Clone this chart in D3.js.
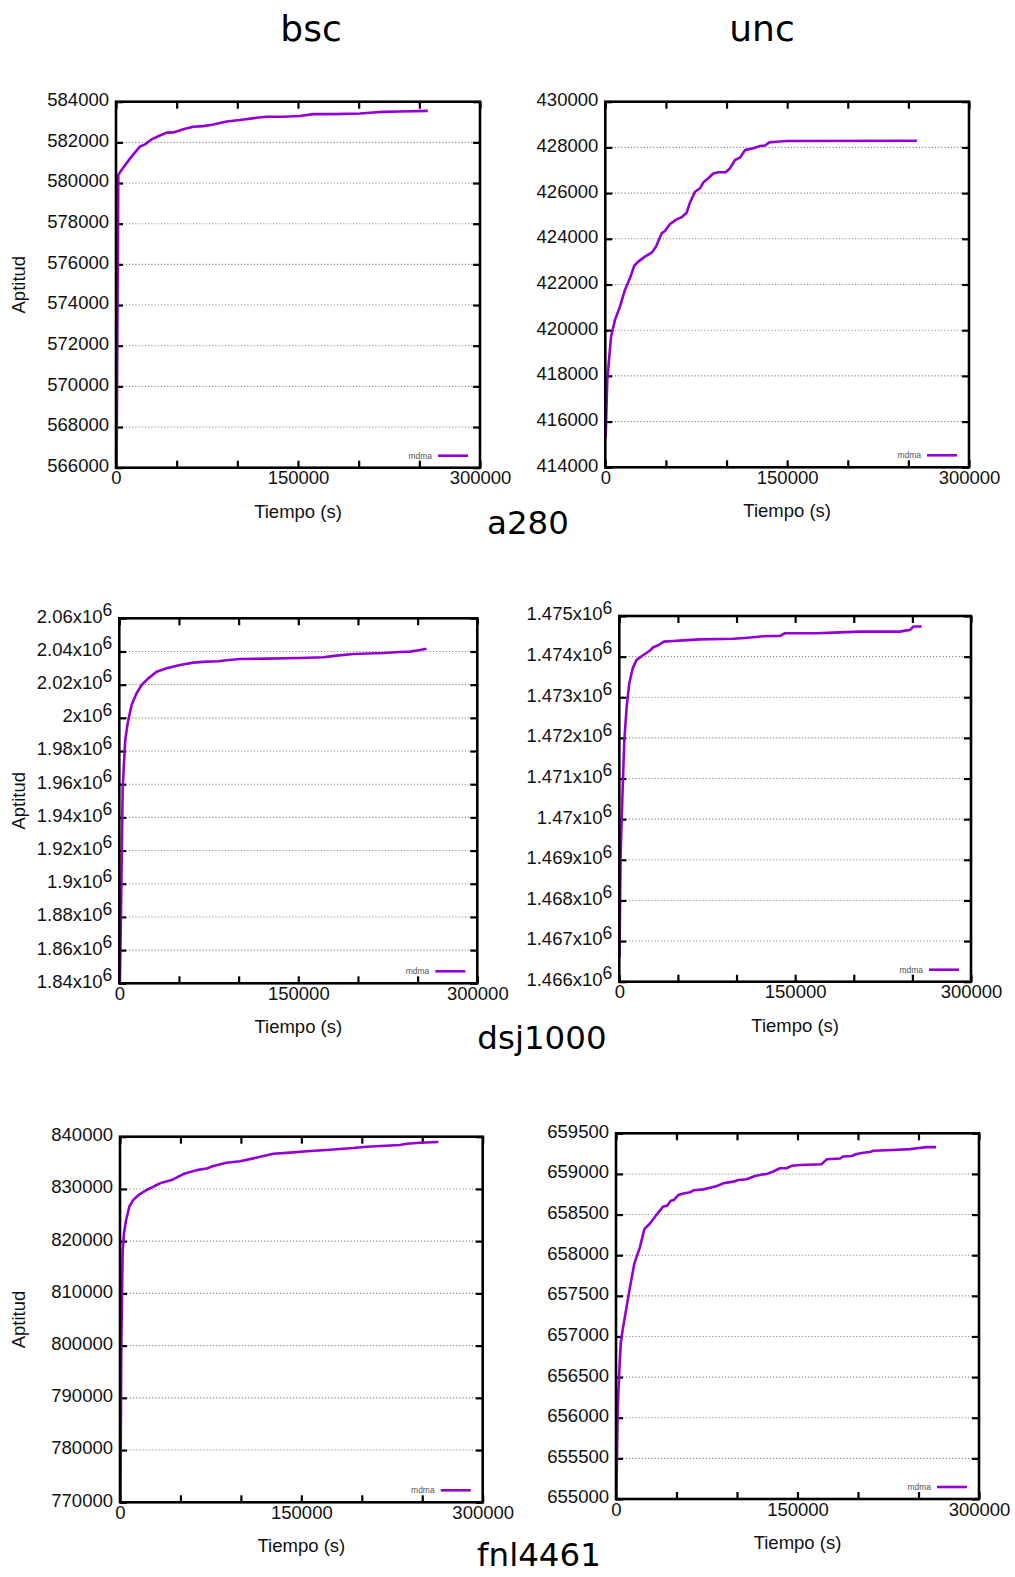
<!DOCTYPE html>
<html>
<head>
<meta charset="utf-8">
<script src="https://cdn.jsdelivr.net/npm/d3@7"></script>
<style>
  body { margin: 0; background: #fff; }
  svg { display: block; }
</style>
</head>
<body>
<svg id="chart" width="1015" height="1577"></svg>
<script>
// column / row titles
var columnNames = ["bsc", "unc"];
var rowNames = ["a280", "dsj1000", "fnl4461"];

// x axis: ticks every 50000, labels only on these
var xTicks = [0, 50000, 100000, 150000, 200000, 250000, 300000];
var xLabelled = [0, 150000, 300000];

// y ticks for each panel
var a280BscTicks = [566000, 568000, 570000, 572000, 574000, 576000, 578000, 580000, 582000, 584000];
var a280UncTicks = [414000, 416000, 418000, 420000, 422000, 424000, 426000, 428000, 430000];
var dsjBscTicks = [1840000, 1860000, 1880000, 1900000, 1920000, 1940000, 1960000, 1980000, 2000000, 2020000, 2040000, 2060000];
var dsjUncTicks = [1466000, 1467000, 1468000, 1469000, 1470000, 1471000, 1472000, 1473000, 1474000, 1475000];
var fnlBscTicks = [770000, 780000, 790000, 800000, 810000, 820000, 830000, 840000];
var fnlUncTicks = [655000, 655500, 656000, 656500, 657000, 657500, 658000, 658500, 659000, 659500];

// [tiempo (s), aptitud]
var a280Bsc = [[500, 566000], [1900, 580400], [4700, 580650], [11500, 581200], [19800, 581800], [23900, 581900],
  [29400, 582150], [34900, 582300], [41800, 582480], [47300, 582490], [55500, 582640], [63700, 582770],
  [72000, 582800], [80200, 582880], [91200, 583030], [102200, 583100], [115900, 583210], [124200, 583260],
  [137900, 583260], [151600, 583300], [162600, 583390], [179100, 583390], [201100, 583420], [214800, 583480],
  [220300, 583500], [234000, 583520], [257000, 583550]];

var a280Unc = [[300, 415300], [1600, 417800], [4700, 419700], [8000, 420450], [12100, 421030], [16200, 421760],
  [20300, 422270], [23900, 422820], [27200, 423000], [32700, 423220], [38200, 423390], [41800, 423650],
  [46500, 424240], [49200, 424340], [53400, 424650], [58800, 424850], [63000, 424940], [67100, 425140],
  [69800, 425580], [74000, 426060], [78100, 426210], [80800, 426460], [85000, 426650], [89100, 426860],
  [93200, 426910], [99500, 426920], [102800, 427080], [107000, 427450], [111100, 427550], [115200, 427880],
  [122100, 427960], [127600, 428060], [131700, 428080], [135300, 428220], [141300, 428250], [149600, 428280],
  [257000, 428290]];

var dsjBsc = [[500, 1840000], [1700, 1896000], [2800, 1956500], [3900, 1972600], [5000, 1986700], [7000, 1996700],
  [10300, 2007800], [14500, 2014800], [18700, 2019800], [24300, 2023800], [31300, 2027800], [39700, 2029900],
  [50800, 2031900], [62000, 2033300], [73200, 2033900], [83000, 2034100], [89900, 2034700], [101100, 2035500],
  [123500, 2035700], [151400, 2036100], [170900, 2036500], [182100, 2037500], [196100, 2038500], [221200, 2039100],
  [235200, 2039700], [243600, 2039900], [252000, 2040900], [257500, 2041700]];

var dsjUnc = [[200, 1466600], [1100, 1469100], [2800, 1470700], [4300, 1471950], [6300, 1472770], [8500, 1473340],
  [11400, 1473710], [14800, 1473920], [19000, 1474010], [26200, 1474150], [29000, 1474230], [33300, 1474280],
  [38100, 1474370], [46100, 1474385], [54600, 1474400], [68800, 1474425], [97300, 1474440], [107200, 1474460],
  [122800, 1474500], [137100, 1474510], [141300, 1474575], [168300, 1474575], [182600, 1474590], [205300, 1474615],
  [239400, 1474615], [243700, 1474640], [248000, 1474655], [250800, 1474740], [257900, 1474740]];

var fnlBsc = [[400, 770000], [1100, 800400], [2200, 818300], [3300, 821500], [5000, 824000], [7700, 826600],
  [11000, 827900], [15200, 828800], [22100, 829800], [29000, 830600], [34500, 831200], [42700, 831700],
  [52400, 832850], [63400, 833600], [71700, 833900], [77200, 834400], [88200, 835000], [99300, 835300],
  [110300, 835850], [118600, 836300], [126800, 836750], [140600, 836950], [154400, 837200], [170900, 837450],
  [193000, 837830], [204000, 838080], [231600, 838400], [237100, 838660], [248200, 838850], [263300, 838980]];

var fnlUnc = [[300, 655000], [1400, 656100], [2500, 656500], [3900, 656920], [5500, 657080], [8800, 657370],
  [11600, 657610], [15200, 657900], [19800, 658100], [23400, 658320], [28100, 658390], [33600, 658500],
  [39100, 658600], [42400, 658610], [45200, 658670], [47900, 658680], [51500, 658740], [55700, 658760],
  [61200, 658775], [64500, 658800], [72200, 658810], [77700, 658830], [83200, 658850], [88700, 658885],
  [97000, 658905], [101100, 658925], [108000, 658935], [114900, 658975], [121800, 658995], [124500, 659000],
  [130000, 659030], [135500, 659070], [141000, 659070], [145200, 659100], [152100, 659110], [170000, 659120],
  [174100, 659180], [185100, 659190], [187900, 659215], [194800, 659220], [198900, 659245], [204400, 659260],
  [209900, 659270], [212700, 659285], [229200, 659295], [243000, 659305], [248500, 659315], [256800, 659330],
  [264500, 659330]];

var seriesName = "mdma";

// panel boxes (left, right, top, bottom) in page pixels
var panels = [
  {data: a280Bsc, ticks: a280BscTicks, sci: false, yTitle: true,  box: [116, 480, 101.7, 467.7]},
  {data: a280Unc, ticks: a280UncTicks, sci: false, yTitle: false, box: [605.3, 969, 101.7, 467.3]},
  {data: dsjBsc,  ticks: dsjBscTicks,  sci: true,  yTitle: true,  box: [119.3, 477.3, 618.3, 983.3]},
  {data: dsjUnc,  ticks: dsjUncTicks,  sci: true,  yTitle: false, box: [619.3, 971, 616, 981.7]},
  {data: fnlBsc,  ticks: fnlBscTicks,  sci: false, yTitle: true,  box: [120, 482.7, 1136.7, 1502.3]},
  {data: fnlUnc,  ticks: fnlUncTicks,  sci: false, yTitle: false, box: [616, 979, 1133.3, 1499]}
];

var svg = d3.select("#chart");
var sansFont = "'Liberation Sans', Arial, sans-serif";
var titleFont = "'DejaVu Sans', Verdana, sans-serif";
var purple = "#9400d3";

// big titles
svg.selectAll(".coltitle")
  .data(columnNames)
  .enter().append("text")
    .attr("class", "coltitle")
    .attr("x", function(d, i) { return [311, 762][i]; })
    .attr("y", 41)
    .attr("text-anchor", "middle")
    .style("font-family", titleFont)
    .style("font-size", "36px")
    .text(function(d) { return d; });

svg.selectAll(".rowtitle")
  .data(rowNames)
  .enter().append("text")
    .attr("class", "rowtitle")
    .attr("x", function(d, i) { return [528, 542, 539][i]; })
    .attr("y", function(d, i) { return [534, 1049, 1566][i]; })
    .attr("text-anchor", "middle")
    .style("font-family", titleFont)
    .style("font-size", "32.5px")
    .text(function(d) { return d; });

function fmtSci(v) {
  return String(+(v / 1e6).toFixed(3)) + "x10";
}

panels.forEach(function(p, idx) {
  var L = p.box[0], R = p.box[1], T = p.box[2], B = p.box[3];
  var x = d3.scaleLinear().domain([0, 300000]).range([L, R]);
  var y = d3.scaleLinear().domain(d3.extent(p.ticks)).range([B, T]);
  var g = svg.append("g");

  // dotted grid
  g.selectAll(".grid")
    .data(p.ticks)
    .enter().append("line")
      .attr("x1", L).attr("x2", R)
      .attr("y1", function(d) { return y(d); })
      .attr("y2", function(d) { return y(d); })
      .attr("stroke", "#8a8a8a")
      .attr("stroke-width", 1.1)
      .attr("stroke-dasharray", "1.2,2");

  // axes, ticks drawn inward and mirrored
  var xLab = function(d) { return xLabelled.indexOf(d) >= 0 ? d : ""; };
  g.append("g").attr("transform", "translate(0," + B + ")")
    .call(d3.axisBottom(x).tickValues(xTicks).tickSizeInner(-7).tickSizeOuter(0).tickPadding(3.5).tickFormat(xLab));
  g.append("g").attr("transform", "translate(0," + T + ")")
    .call(d3.axisTop(x).tickValues(xTicks).tickSizeInner(-7).tickSizeOuter(0).tickFormat(""));
  var left = g.append("g").attr("transform", "translate(" + L + ",0)")
    .call(d3.axisLeft(y).tickValues(p.ticks).tickSizeInner(-7).tickSizeOuter(0).tickPadding(7)
      .tickFormat(function(d) { return p.sci ? fmtSci(d) : d; }));
  g.append("g").attr("transform", "translate(" + R + ",0)")
    .call(d3.axisRight(y).tickValues(p.ticks).tickSizeInner(-7).tickSizeOuter(0).tickFormat(""));

  g.selectAll(".domain").remove();
  g.selectAll(".tick line").attr("stroke", "#000").attr("stroke-width", 2.2);
  g.selectAll(".tick text")
    .attr("fill", "#111")
    .style("font-family", sansFont)
    .style("font-size", "18.5px");
  left.selectAll(".tick text").attr("y", -2);

  if (p.sci) {
    left.selectAll(".tick text").append("tspan")
      .attr("dy", "-0.38em")
      .style("font-size", "17.5px")
      .text("6");
  }

  // the curve
  var clipId = "clip" + idx;
  g.append("clipPath").attr("id", clipId)
    .append("rect").attr("x", L).attr("y", T).attr("width", R - L).attr("height", B - T);

  var line = d3.line()
    .x(function(d) { return x(d[0]); })
    .y(function(d) { return y(d[1]); });

  g.append("path")
    .datum(p.data)
    .attr("clip-path", "url(#" + clipId + ")")
    .attr("d", line)
    .attr("fill", "none")
    .attr("stroke", purple)
    .attr("stroke-width", 2.6)
    .attr("stroke-linejoin", "round");

  // frame
  g.append("rect")
    .attr("x", L).attr("y", T)
    .attr("width", R - L).attr("height", B - T)
    .attr("fill", "none")
    .attr("stroke", "#000")
    .attr("stroke-width", 2.6);

  // legend
  g.append("text")
    .attr("x", R - 48).attr("y", B - 12)
    .attr("dy", "0.35em")
    .attr("text-anchor", "end")
    .attr("fill", "#555")
    .style("font-family", sansFont)
    .style("font-size", "8.5px")
    .text(seriesName);
  g.append("line")
    .attr("x1", R - 42).attr("x2", R - 12)
    .attr("y1", B - 12).attr("y2", B - 12)
    .attr("stroke", purple)
    .attr("stroke-width", 2.6);

  // axis titles
  g.append("text")
    .attr("x", (L + R) / 2).attr("y", B + 50)
    .attr("text-anchor", "middle")
    .attr("fill", "#111")
    .style("font-family", sansFont)
    .style("font-size", "18.5px")
    .text("Tiempo (s)");

  if (p.yTitle) {
    g.append("text")
      .attr("transform", "translate(25," + ((T + B) / 2) + ") rotate(-90)")
      .attr("text-anchor", "middle")
      .attr("fill", "#111")
      .style("font-family", sansFont)
      .style("font-size", "18.5px")
      .text("Aptitud");
  }
});
</script>
</body>
</html>
